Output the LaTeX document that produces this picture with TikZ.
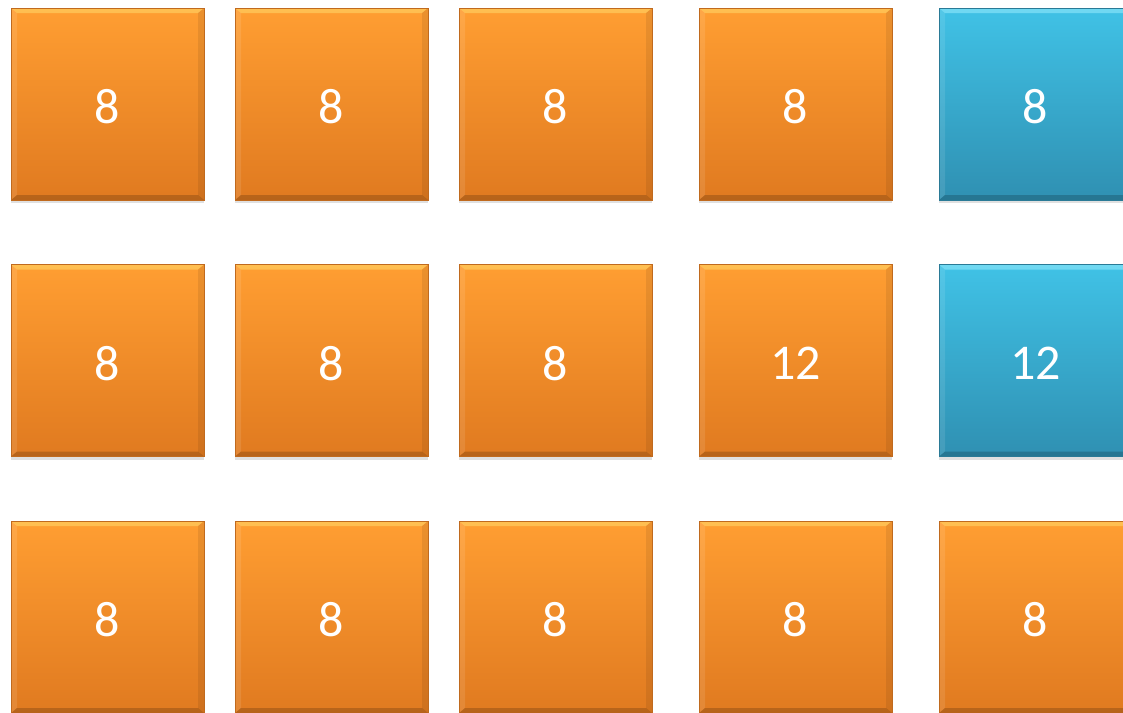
\documentclass[tikz,border=0pt]{standalone}
\usepackage{fontspec}
\setmainfont{Carlito}
\usetikzlibrary{shadows}
\definecolor{otop}{HTML}{FF9E32}
\definecolor{obot}{HTML}{E07A20}
\definecolor{oedge}{HTML}{C06A1E}
\definecolor{ohi}{HTML}{FFE070}
\definecolor{btop}{HTML}{40C2E6}
\definecolor{bbot}{HTML}{2F90B2}
\definecolor{bedge}{HTML}{2A7A96}
\definecolor{bhi}{HTML}{A0F0FF}
\newcommand{\tl}[1]{\raisebox{-3pt}[\height][\depth]{#1}}
\tikzset{
  bevel/.style={path picture={
    \fill[#1,opacity=0.5] (path picture bounding box.north west) -- (path picture bounding box.north east)
      -- ([xshift=-6pt,yshift=-5pt]path picture bounding box.north east) -- ([xshift=6pt,yshift=-5pt]path picture bounding box.north west) -- cycle;
    \fill[white,opacity=0.10] (path picture bounding box.north west) -- (path picture bounding box.south west)
      -- ([xshift=6pt,yshift=5pt]path picture bounding box.south west) -- ([xshift=6pt,yshift=-5pt]path picture bounding box.north west) -- cycle;
    \fill[black,opacity=0.08] (path picture bounding box.north east) -- (path picture bounding box.south east)
      -- ([xshift=-6pt,yshift=5pt]path picture bounding box.south east) -- ([xshift=-6pt,yshift=-5pt]path picture bounding box.north east) -- cycle;
    \fill[black,opacity=0.18] (path picture bounding box.south west) -- (path picture bounding box.south east)
      -- ([xshift=-6pt,yshift=5pt]path picture bounding box.south east) -- ([xshift=6pt,yshift=5pt]path picture bounding box.south west) -- cycle;
  }},
  tile/.style={minimum width=193pt, minimum height=192pt, inner sep=0pt, text=white,
    font=\fontsize{50}{60}\selectfont, line width=0.6pt,
    drop shadow={shadow xshift=0pt, shadow yshift=-3pt, opacity=0.12, fill=black}},
  otile/.style={tile, draw=oedge, top color=otop, bottom color=obot, bevel=ohi},
  btile/.style={tile, draw=bedge, top color=btop, bottom color=bbot, bevel=bhi},
}
\begin{document}
\begin{tikzpicture}[x=1pt,y=-1pt]
\useasboundingbox (0,0) rectangle (1123,712);
\clip (0,0) rectangle (1123,712);
\node[otile] (a1) at (107.5,104) {\tl{8}};
\node[otile] (a2) at (331.5,104) {\tl{8}};
\node[otile] (a3) at (555.5,104) {\tl{8}};
\node[otile] (a4) at (795.5,104) {\tl{8}};
\node[btile] (a5) at (1035.5,104) {\tl{8}};
\node[otile] (b1) at (107.5,360.5) {\tl{8}};
\node[otile] (b2) at (331.5,360.5) {\tl{8}};
\node[otile] (b3) at (555.5,360.5) {\tl{8}};
\node[otile] (b4) at (795.5,360.5) {\tl{12}};
\node[btile] (b5) at (1035.5,360.5) {\tl{12}};
\node[otile] (c1) at (107.5,617) {\tl{8}};
\node[otile] (c2) at (331.5,617) {\tl{8}};
\node[otile] (c3) at (555.5,617) {\tl{8}};
\node[otile] (c4) at (795.5,617) {\tl{8}};
\node[otile] (c5) at (1035.5,617) {\tl{8}};
\end{tikzpicture}
\end{document}
